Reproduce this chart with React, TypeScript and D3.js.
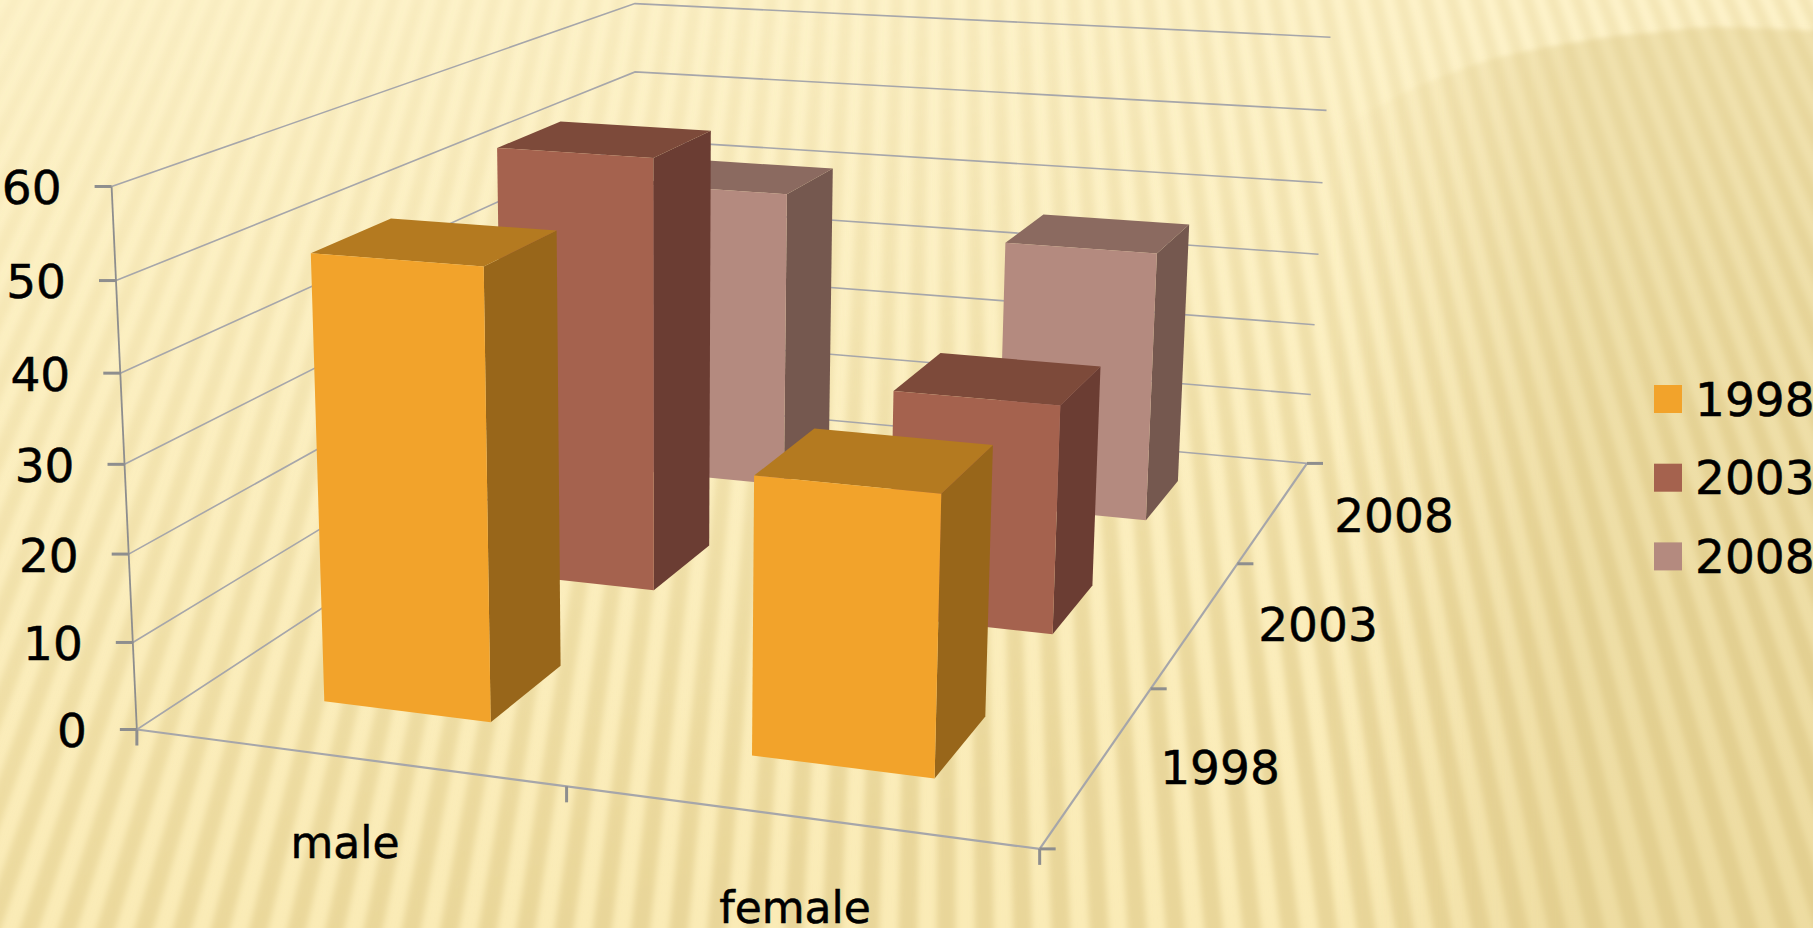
import React from 'react';
import * as d3 from 'd3';

const categories = ['male', 'female'];
const series = ['1998', '2003', '2008'];
const values1998 = [51, 31];
const values2003 = [54, 28];
const values2008 = [40.5, 36];
const valueTicks = [0, 10, 20, 30, 40, 50, 60];

// screen calibration: [u, v, h, x, y]
const calib = [
  [0, 0, 0, 137, 730], [0, 0, 1, 111.6, 185.7], [0, 0, 0.5, 125, 464],
  [1, 0, 0, 1039, 849.5], [0, 1, 0, 636, 403], [0, 1, 1, 635, 3.5], [0, 1, 5 / 6, 634.5, 72],
  [1, 1, 0, 1307, 462], [1, 1, 1, 1330.5, 37.7], [1, 1, 0.5, 1319, 254.7],
];

function solve(A: number[][], b: number[]) {
  const n = b.length;
  const M = A.map((r, i) => [...r, b[i]]);
  for (let c = 0; c < n; c++) {
    let p = c;
    for (let r = c + 1; r < n; r++) if (Math.abs(M[r][c]) > Math.abs(M[p][c])) p = r;
    [M[c], M[p]] = [M[p], M[c]];
    for (let r = 0; r < n; r++) {
      if (r === c) continue;
      const f = M[r][c] / M[c][c];
      for (let k = c; k <= n; k++) M[r][k] -= f * M[c][k];
    }
  }
  return M.map((r, i) => r[n] / r[i]);
}
function fitP() {
  const rows: number[][] = [], rhs: number[] = [];
  for (const [u, v, h, x0, y0] of calib) {
    const x = x0 / 1000, y = y0 / 1000;
    rows.push([u, v, h, 1, 0, 0, 0, 0, -x * u, -x * v, -x * h]); rhs.push(x);
    rows.push([0, 0, 0, 0, u, v, h, 1, -y * u, -y * v, -y * h]); rhs.push(y);
  }
  const ATA = d3.range(11).map(i => d3.range(11).map(j => d3.sum(rows, r => r[i] * r[j])));
  const ATb = d3.range(11).map(i => d3.sum(rows, (r, k) => r[i] * rhs[k]));
  return solve(ATA, ATb);
}
const P = fitP();
function proj(u: number, v: number, h: number): [number, number] {
  const w = P[8] * u + P[9] * v + P[10] * h + 1;
  return [1000 * (P[0] * u + P[1] * v + P[2] * h + P[3]) / w, 1000 * (P[4] * u + P[5] * v + P[6] * h + P[7]) / w];
}

const uScale = d3.scaleBand<string>().domain(categories).range([0, 1]).paddingInner(0.6).paddingOuter(0.3);
const vScale = d3.scaleBand<string>().domain(series).range([0, 1]).paddingInner(0.6).paddingOuter(0.3);
const hScale = d3.scaleLinear().domain([0, 60]).range([0, 1]);

const palette: Record<string, { front: string; side: string; top: string }> = {
  '1998': { front: '#F2A32B', side: '#98661A', top: '#B47A20' },
  '2003': { front: '#A5624E', side: '#6B3D33', top: '#7D4A3A' },
  '2008': { front: '#B48A7F', side: '#75584F', top: '#8B6A60' },
};
const valueBySeries: Record<string, number[]> = { '1998': values1998, '2003': values2003, '2008': values2008 };
const pts = (a: [number, number][]) => a.map(p => p.map(n => n.toFixed(1)).join(',')).join(' ');
const GRID = '#A6A6AA', TICK = '#8E8E8E';
const font = { fontFamily: '"DejaVu Sans"', fill: '#000', stroke: '#000', strokeWidth: 0.5 } as const;

export default function App() {
  const step = 0.014;
  const stripes = d3.range(-70, 60).map(i => {
    const t0 = (i + 0.65) * step, t1 = t0 + step / 2;
    const X = (t: number, y: number) => 950 + t * (y + 1800);
    return pts([[X(t0, -10), -10], [X(t1, -10), -10], [X(t1, 940), 940], [X(t0, 940), 940]]);
  });
  const order = ['2008', '2003', '1998'];
  return (
    <svg width={1813} height={928} viewBox="0 0 1813 928" style={{ position: 'fixed', left: 0, top: 0 }}>
      <defs>
        <linearGradient id="bg" gradientUnits="userSpaceOnUse" x1={0} y1={0} x2={0} y2={928}>
          <stop offset="0" stopColor="#FDF2C9" />
          <stop offset="1" stopColor="#FAEBB6" />
        </linearGradient>
        <linearGradient id="stripeFill" gradientUnits="userSpaceOnUse" x1={200} y1={-100} x2={500} y2={928}>
          <stop offset="0" stopColor="#D9C27C" stopOpacity={0.08} />
          <stop offset="0.5" stopColor="#D9C27C" stopOpacity={0.25} />
          <stop offset="1" stopColor="#D9C27C" stopOpacity={0.5} />
        </linearGradient>
        <linearGradient id="blob" gradientUnits="userSpaceOnUse" x1={1330} y1={0} x2={1570} y2={0}>
          <stop offset="0" stopColor="#D9C27C" stopOpacity={0} />
          <stop offset="1" stopColor="#D9C27C" stopOpacity={0.36} />
        </linearGradient>
        <filter id="soft" x="-5%" y="-5%" width="110%" height="110%"><feGaussianBlur stdDeviation="3" /></filter>
        <filter id="soft2" x="-5%" y="-5%" width="110%" height="110%"><feGaussianBlur stdDeviation="2.5" /></filter>
      </defs>
      <rect width={1813} height={928} fill="url(#bg)" />
      <g filter="url(#soft)">
        {stripes.map((s, i) => <polygon key={i} points={s} fill="url(#stripeFill)" />)}
      </g>
      <path d="M1270,190 C1320,140 1370,110 1410,90 C1450,72 1480,62 1500,57 C1530,50 1550,46 1577,42 C1610,36 1630,34 1650,33 C1680,29 1700,27 1713,27 C1750,27 1790,30 1830,31 L1830,940 L1270,940 Z" fill="url(#blob)" filter="url(#soft2)" />

      {valueTicks.map(t => {
        const h = hScale(t);
        const a = proj(0, 0, h), b = proj(0, 1, h), c = proj(1, 1, h);
        return (
          <g key={t}>
            <polyline points={pts([a, b, c])} fill="none" stroke={GRID} strokeWidth={1.6} />
            <line x1={a[0] - 17} x2={a[0]} y1={a[1]} y2={a[1]} stroke={TICK} strokeWidth={3} />
            <text x={a[0] - 50} y={a[1] + 1} textAnchor="end" dominantBaseline="central" fontSize={47} {...font}>{t}</text>
          </g>
        );
      })}
      <line x1={proj(0, 0, 0)[0]} y1={proj(0, 0, 0)[1]} x2={proj(0, 0, 1)[0]} y2={proj(0, 0, 1)[1]} stroke={TICK} strokeWidth={1.8} />
      <line x1={proj(0, 0, 0)[0]} y1={proj(0, 0, 0)[1]} x2={proj(1, 0, 0)[0]} y2={proj(1, 0, 0)[1]} stroke={GRID} strokeWidth={2.2} />
      <line x1={proj(1, 0, 0)[0]} y1={proj(1, 0, 0)[1]} x2={proj(1, 1, 0)[0]} y2={proj(1, 1, 0)[1]} stroke={GRID} strokeWidth={2.2} />
      {[0, 0.5, 1].map(u => {
        const p = proj(u, 0, 0);
        return <line key={u} x1={p[0]} x2={p[0]} y1={p[1]} y2={p[1] + 16} stroke={TICK} strokeWidth={3} />;
      })}
      {[0, 1 / 3, 2 / 3, 1].map(v => {
        const p = proj(1, v, 0);
        return <line key={v} x1={p[0]} x2={p[0] + 16} y1={p[1]} y2={p[1]} stroke={TICK} strokeWidth={3} />;
      })}

      {order.flatMap(s => categories.map((c, ci) => {
        const x0 = uScale(c)!, x1 = x0 + uScale.bandwidth();
        const z0 = vScale(s)!, z1 = z0 + vScale.bandwidth();
        const h = hScale(valueBySeries[s][ci]);
        const col = palette[s];
        return (
          <g key={s + c}>
            <polygon points={pts([proj(x1, z0, 0), proj(x1, z1, 0), proj(x1, z1, h), proj(x1, z0, h)])} fill={col.side} />
            <polygon points={pts([proj(x0, z0, h), proj(x1, z0, h), proj(x1, z1, h), proj(x0, z1, h)])} fill={col.top} />
            <polygon points={pts([proj(x0, z0, 0), proj(x1, z0, 0), proj(x1, z0, h), proj(x0, z0, h)])} fill={col.front} />
          </g>
        );
      }))}

      <text x={345} y={842} textAnchor="middle" dominantBaseline="central" fontSize={44} {...font}>{categories[0]}</text>
      <text x={795} y={907} textAnchor="middle" dominantBaseline="central" fontSize={44} {...font}>{categories[1]}</text>
      <text x={1220} y={767} textAnchor="middle" dominantBaseline="central" fontSize={47} {...font}>{series[0]}</text>
      <text x={1318} y={624} textAnchor="middle" dominantBaseline="central" fontSize={47} {...font}>{series[1]}</text>
      <text x={1394} y={515} textAnchor="middle" dominantBaseline="central" fontSize={47} {...font}>{series[2]}</text>

      {series.map((s, i) => (
        <g key={s}>
          <rect x={1654} y={385 + i * 78.7} width={28} height={28} fill={palette[s].front} />
          <text x={1695} y={399 + i * 78.7} dominantBaseline="central" fontSize={47} {...font}>{s}</text>
        </g>
      ))}
    </svg>
  );
}
